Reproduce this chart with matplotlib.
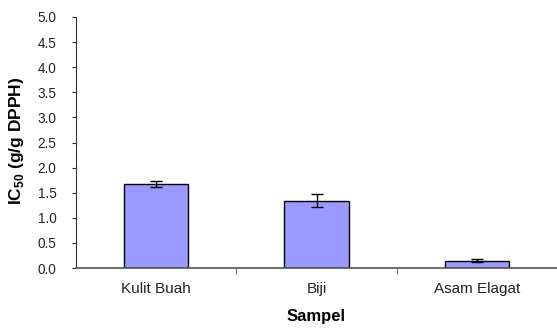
import matplotlib
matplotlib.use("Agg")
import matplotlib.pyplot as plt
import numpy as np

categories = ["Kulit Buah", "Biji", "Asam Elagat"]
values = [1.67, 1.34, 0.14]
errors = [0.06, 0.13, 0.03]
yticks = [0.0, 0.5, 1.0, 1.5, 2.0, 2.5, 3.0, 3.5, 4.0, 4.5, 5.0]

plt.rcParams['font.family'] = ['Liberation Sans', 'DejaVu Sans']
plt.rcParams['mathtext.fontset'] = 'custom'
plt.rcParams['mathtext.rm'] = 'Liberation Sans'
plt.rcParams['mathtext.bf'] = 'Liberation Sans:bold'

fig = plt.figure(figsize=(5.57, 3.29), dpi=100)
ax = fig.add_axes([76/557, 1-268/329, 481/557, 251/329])

x = np.arange(len(categories))
ax.bar(x, values, width=0.4, color="#9999FF", edgecolor="black", linewidth=1.0,
       yerr=errors, error_kw=dict(ecolor="black", elinewidth=1.0, capsize=4, capthick=1.0), zorder=2)

ax.set_xlim(-0.5, 2.5)
ax.set_ylim(0, 5.0)
ax.set_yticks(yticks)
ax.set_yticklabels([f"{v:.1f}" for v in yticks], fontsize=9.8, color="#222222")
ax.set_xticks(x)
ax.set_xticklabels(categories, fontsize=11, color="#222222")
ax.tick_params(axis="x", length=0, pad=10)
ax.set_xticks([0.5, 1.5], minor=True)
ax.tick_params(axis="x", which="minor", length=4, direction="out", color="#555555")
ax.tick_params(axis="y", length=3, direction="out", color="#333333", pad=11)

for s in ["top", "right"]:
    ax.spines[s].set_visible(False)
ax.spines["left"].set_color("#333333")
ax.spines["bottom"].set_color("#555555")
ax.spines["bottom"].set_linewidth(1.2)

ax.set_xlabel("Sampel", fontsize=12, fontweight="bold")
ax.xaxis.set_label_coords(0.5, -0.165)
ax.set_ylabel("IC$_{\\mathbf{50}}$ (g/g DPPH)", fontsize=12.5, fontweight="bold")
ax.yaxis.set_label_coords(-0.104, 0.506)

fig.savefig("out.png", dpi=100)
